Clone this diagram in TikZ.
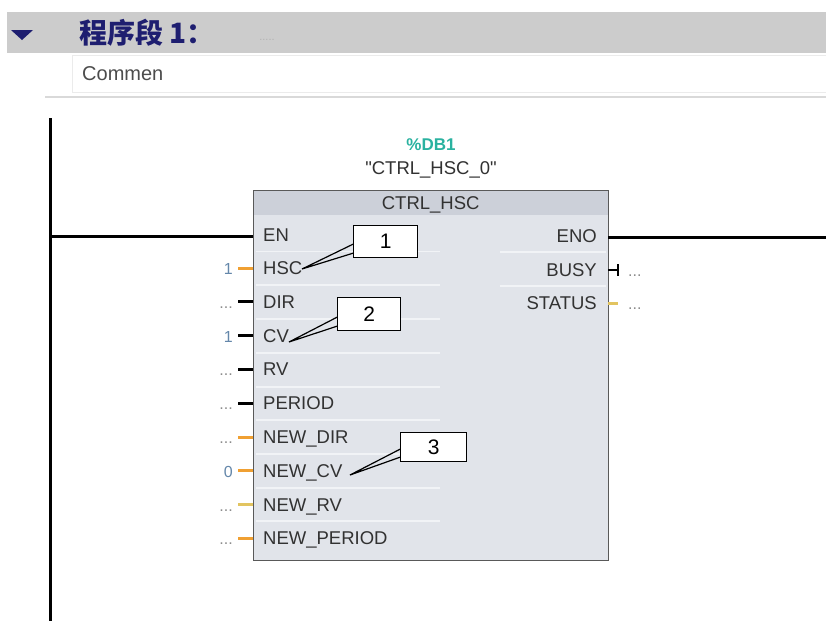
\documentclass[tikz,border=0pt]{standalone}
\usepackage{fontspec}
\setmainfont{Liberation Sans}
\newfontfamily\rawsans{Liberation Sans}[Ligatures=TeXOff]
\newfontfamily\cjk{Noto Sans CJK SC}
\usetikzlibrary{positioning,calc}
\definecolor{navy}{RGB}{30,30,112}
\definecolor{hdrgray}{RGB}{204,204,204}
\definecolor{dbteal}{RGB}{42,178,160}
\definecolor{boxbody}{RGB}{225,228,234}
\definecolor{boxtitle}{RGB}{204,208,217}
\definecolor{pinorange}{RGB}{240,160,50}
\definecolor{pinyellow}{RGB}{226,196,96}
\definecolor{valblue}{RGB}{100,135,170}
\definecolor{txtgray}{RGB}{50,50,50}
\newcommand\nov{...}
\tikzset{
  pin/.style   ={inner sep=0pt,text height=13pt,text depth=0pt,font=\fontsize{18.5}{21}\selectfont,text=txtgray},
  val/.style   ={inner sep=0pt,text height=13pt,text depth=0pt,font=\fontsize{16}{18}\selectfont},
  stub/.style  ={line width=3pt},
  rail/.style  ={line width=3pt,black},
  num/.style   ={rectangle,draw,line width=1.2pt,fill=white,inner sep=0pt,font=\fontsize{21}{24}\selectfont},
  lead/.style  ={line width=1.2pt,line join=miter},
  sepline/.style={white!55!boxbody,line width=1.2pt},
}

\begin{document}
\begin{tikzpicture}[x=1pt,y=-1pt]
  \useasboundingbox (0,0) rectangle (826,621);
  \fill[white] (0,0) rectangle (826,621);
  % network header
  \fill[hdrgray] (7,12) rectangle (826,53);
  \fill[navy] (11,30) -- (33,30) -- (22,40) -- cycle;
  \node[anchor=west,inner sep=0pt,text=navy,font=\cjk\bfseries\fontsize{28}{30}\selectfont] (title) at (79,33) {程序段 1：};
  \node[inner sep=0pt,text=black!30,font=\fontsize{11}{11}\selectfont] (tdots) at (267,40) {.....};
  \draw[draw=black!8,fill=white] (72,55) rectangle (826,92);
  \node[anchor=west,inner sep=0pt,text=black!70,font=\fontsize{20}{22}\selectfont] (cmt) at (82,74) {Commen};
  \draw[black!15,line width=1.5pt] (45,97) -- (826,97);
  % power rail
  \coordinate (railtop) at (50,118);
  \coordinate (railbot) at (50,621);
  \draw[rail] (railtop) -- (railbot);
  % function block
  \node[fill=boxbody,minimum width=355pt,minimum height=370pt,anchor=north west,inner sep=0pt] (blk) at (253,190) {};
  \fill[boxtitle] (blk.north west) rectangle ($(blk.north east)+(0,25)$);
  \foreach \y in {251.5,285,319,353,387,420,454,488,521}
    \draw[sepline] (256,\y) -- (440,\y);
  \foreach \y in {252,286}
    \draw[sepline] (500,\y) -- (606,\y);
  \draw[black!65,line width=0.8pt] (blk.north west) rectangle (blk.south east);
  \node[pin] (fbname) at ($(blk.north)+(0,13)$) {CTRL\_HSC};
  \node[pin,font=\rawsans\fontsize{18.5}{21}\selectfont] (inst) at (431,168) {"CTRL\_HSC\_0"};
  \node[pin,text=dbteal,font=\bfseries\fontsize{17}{20}\selectfont] (db) at (431,144) {\%DB1};
  % EN / ENO
  \node[pin,anchor=west] (en) at (263,235) {EN};
  \coordinate (en-in) at (253,236);
  \draw[rail] (railtop |- en-in) -- (en-in);
  \node[pin,anchor=east] (eno) at (597,236) {ENO};
  \coordinate (eno-out) at (608,237);
  \coordinate (rungend) at (826,237);
  \draw[rail] (eno-out) -- (rungend);
  % inputs
  \foreach \nm/\lab/\v/\sc/\vc [count=\k from 0] in {
      hsc/HSC/1/pinorange/valblue,
      dir/DIR/\nov/black/black!45,
      cv/CV/1/black/valblue,
      rv/RV/\nov/black/black!45,
      period/PERIOD/\nov/black/black!45,
      ndir/NEW\_DIR/\nov/pinorange/black!45,
      ncv/NEW\_CV/0/pinorange/valblue,
      nrv/NEW\_RV/\nov/pinyellow/black!45,
      nperiod/NEW\_PERIOD/\nov/pinorange/black!45}{
    \coordinate (\nm-in) at (253,{268+\k*33.8});
    \coordinate (\nm-s) at (238,{268+\k*33.8});
    \node[pin,anchor=west] (\nm) at (263,{268+\k*33.8}) {\lab};
    \node[val,anchor=east,text=\vc] (\nm-v) at (233,{268+\k*33.8}) {\v};
    \draw[stub,\sc] (\nm-s) -- (\nm-in);
  }
  % outputs
  \node[pin,anchor=east] (busy) at (597,270) {BUSY};
  \coordinate (busy-out) at (608,270);
  \coordinate (busy-e) at (618,270);
  \draw[line width=2.5pt] (busy-out) -- (busy-e);
  \draw[line width=2.5pt] ($(busy-e)+(0,-6)$) -- ($(busy-e)+(0,6)$);
  \node[val,anchor=west,text=black!45] (busy-v) at (628,270) {\nov};
  \node[pin,anchor=east] (status) at (597,303) {STATUS};
  \coordinate (status-out) at (608,303);
  \coordinate (status-e) at (618,303);
  \draw[stub,pinyellow] (status-out) -- (status-e);
  \node[val,anchor=west,text=black!45] (status-v) at (628,303) {\nov};
  % callouts
  \node[num,minimum width=64pt,minimum height=32pt,anchor=north west] (c1) at (353,225) {1};
  \coordinate (c1-tip) at (302,269);
  \draw[lead] ($(c1.south west)+(0,-14)$) -- (c1-tip) -- ($(c1.south west)+(0,-5)$);
  \node[num,minimum width=63pt,minimum height=33pt,anchor=north west] (c2) at (337,297) {2};
  \coordinate (c2-tip) at (289,342);
  \draw[lead] ($(c2.south west)+(0,-14)$) -- (c2-tip) -- ($(c2.south west)+(0,-5)$);
  \node[num,minimum width=66pt,minimum height=29pt,anchor=north west] (c3) at (400,432) {3};
  \coordinate (c3-tip) at (350,475);
  \draw[lead] ($(c3.south west)+(0,-13)$) -- (c3-tip) -- ($(c3.south west)+(0,-5)$);
\end{tikzpicture}
\end{document}
